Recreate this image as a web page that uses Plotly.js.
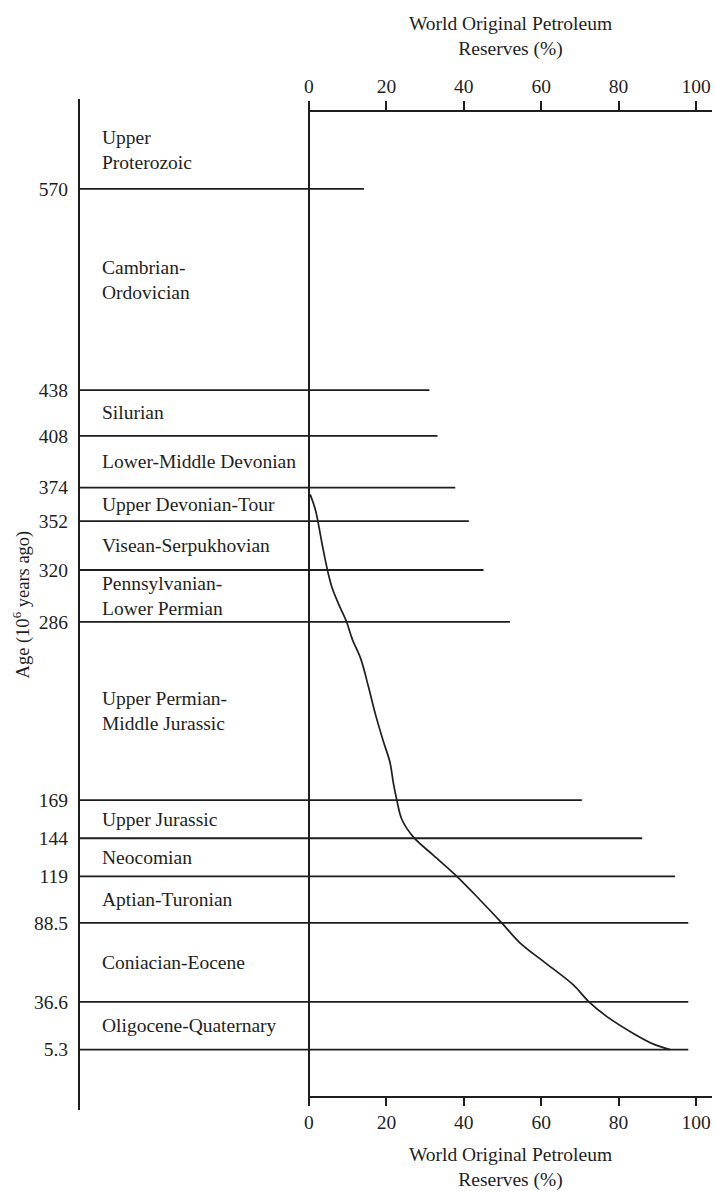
<!DOCTYPE html>
<html>
<head>
<meta charset="utf-8">
<script src="https://cdn.plot.ly/plotly-3.0.1.min.js"></script>
<style>
  html, body { margin: 0; padding: 0; background: #fff; }
  #chart { width: 715px; height: 1191px; }
</style>
</head>
<body>
<div id="chart"></div>
<script>
// ---- Data ----
const boundaryAges = [570, 438, 408, 374, 352, 320, 286, 169, 144, 119, 88.5, 36.6, 5.3];
const boundaryLabels = ["570", "438", "408", "374", "352", "320", "286", "169", "144", "119", "88.5", "36.6", "5.3"];
// cumulative reserves (%) where each boundary line ends
const boundaryLineEnds = [14.2, 31.1, 33.2, 37.8, 41.3, 45.1, 51.9, 70.5, 86.1, 94.6, 98.0, 98.0, 98.0];
const periodNames = [
  "Upper<br>Proterozoic",
  "Cambrian-<br>Ordovician",
  "Silurian",
  "Lower-Middle Devonian",
  "Upper Devonian-Tour",
  "Visean-Serpukhovian",
  "Pennsylvanian-<br>Lower Permian",
  "Upper Permian-<br>Middle Jurassic",
  "Upper Jurassic",
  "Neocomian",
  "Aptian-Turonian",
  "Coniacian-Eocene",
  "Oligocene-Quaternary"
];
// cumulative curve: reserves (%) vs age (10^6 years ago)
const curveReserves = [0.3, 1.6, 2.4, 3.3, 4.1, 5.0, 5.9, 7.6, 9.7, 11.2, 13.4, 15.3, 17.1, 19.2, 20.9, 21.8, 22.7, 24.0, 27.0, 32.1, 38.2, 44.2, 49.8, 54.5, 61.4, 68.3, 72.2, 76.9, 83.8, 89.0, 93.3];
const curveAges = [369.6, 360.0, 350.6, 338.2, 327.9, 317.4, 308.8, 297.9, 286, 274.5, 261.5, 244.0, 225.9, 207.6, 194.0, 180.2, 169, 156.3, 144.7, 132.9, 119, 103.5, 88.5, 75.4, 61.6, 47.8, 37.0, 27.1, 15.9, 8.9, 5.3];
const pctTicks = [0, 20, 40, 60, 80, 100];

// ---- Layout constants ----
const X_MIN = -59.17, X_MAX = 104.13;
const Y_MIN = -34.3, Y_MAX = 629;
const TOP_PERIOD_BOUND = 621;
const FONT = "Liberation Serif, Times New Roman, serif";
const INK = "#1e1e1e";

// boundary lines as one trace with gaps
const hx = [], hy = [];
boundaryAges.forEach((a, i) => {
  hx.push(X_MIN, boundaryLineEnds[i], null);
  hy.push(a, a, null);
});

const traces = [
  { x: hx, y: hy, type: "scatter", mode: "lines", xaxis: "x", yaxis: "y",
    line: { color: INK, width: 1.8 }, hoverinfo: "skip", showlegend: false },
  { x: curveReserves, y: curveAges, type: "scatter", mode: "lines", xaxis: "x", yaxis: "y",
    line: { color: INK, width: 1.7, shape: "spline", smoothing: 1 }, showlegend: false },
  { x: [null], y: [null], xaxis: "x2", yaxis: "y", type: "scatter", mode: "lines", showlegend: false },
  { x: [null], y: [null], xaxis: "x3", yaxis: "y", type: "scatter", mode: "lines", showlegend: false }
];

const annotations = periodNames.map((name, i) => {
  const upper = i === 0 ? TOP_PERIOD_BOUND : boundaryAges[i - 1];
  const lower = boundaryAges[i];
  return {
    x: -54.0, y: (upper + lower) / 2, xref: "x", yref: "y",
    xanchor: "left", yanchor: "middle", align: "left",
    text: name, showarrow: false, yshift: i === 1 ? 10 : 0,
    font: { family: FONT, size: 19.5, color: INK }
  };
});
annotations.push({
  x: -0.0918, y: 0.5, xref: "paper", yref: "paper",
  xanchor: "center", yanchor: "middle", textangle: -90,
  text: "Age (10<sup>6</sup> years ago)", showarrow: false,
  font: { family: FONT, size: 18.5, color: INK }
});

const pctAxis = (pos, side, ticklen, standoff) => ({
  domain: [0.36234, 1], range: [0, X_MAX], anchor: "free", position: pos, side: side,
  showline: true, linewidth: 2, linecolor: INK, mirror: false,
  ticks: "outside", ticklen: ticklen, tickwidth: 2, tickcolor: INK,
  tickvals: pctTicks, ticktext: pctTicks.map(String),
  showgrid: false, zeroline: false, fixedrange: true,
  tickfont: { family: FONT, size: 19.5, color: INK },
  title: { text: "World Original Petroleum<br>Reserves (%)", font: { family: FONT, size: 19.5, color: INK }, standoff: standoff }
});

const layout = {
  width: 715, height: 1191,
  margin: { l: 80, r: 3, t: 99, b: 81, pad: 0 },
  paper_bgcolor: "#ffffff", plot_bgcolor: "rgba(0,0,0,0)",
  showlegend: false,
  font: { family: FONT, color: INK },
  xaxis: { range: [X_MIN, X_MAX], visible: false, fixedrange: true },
  yaxis: {
    range: [Y_MIN, Y_MAX], tickvals: boundaryAges, ticktext: boundaryLabels,
    showline: true, linewidth: 2, linecolor: INK, ticks: "", ticklabelstandoff: 6,
    showgrid: false, zeroline: false, fixedrange: true, automargin: false,
    tickfont: { family: FONT, size: 19.5, color: INK }
  },
  xaxis2: pctAxis(0.01286, "bottom", 8, 17),
  xaxis3: pctAxis(0.98862, "top", 9, 14),
  shapes: [
    { type: "line", xref: "x", yref: "paper", x0: 0, x1: 0, y0: 0.0049, y1: 0.998,
      line: { color: INK, width: 2 } }
  ],
  annotations: annotations
};

Plotly.newPlot("chart", traces, layout, { displayModeBar: false, staticPlot: true });
</script>
</body>
</html>
